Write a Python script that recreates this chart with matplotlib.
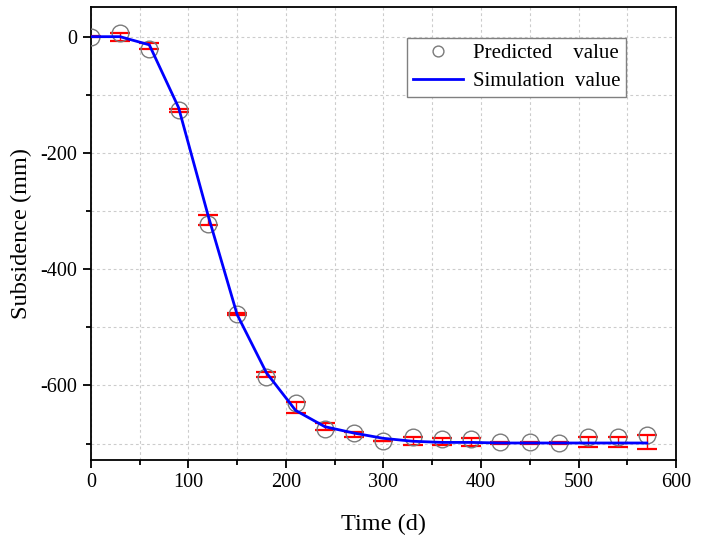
import matplotlib
matplotlib.use("Agg")
import matplotlib.pyplot as plt
from matplotlib.ticker import MultipleLocator

plt.rcParams['font.family'] = ['Liberation Serif', 'DejaVu Serif']
plt.rcParams['axes.unicode_minus'] = False

# time steps (days)
time_d = [0, 30, 60, 90, 120, 150, 180, 210, 240, 270,
          300, 330, 360, 390, 420, 450, 480, 510, 540, 570]

# predicted subsidence (mm)
predicted = [0, 6, -21, -126, -323, -477, -585, -630, -675, -681,
             -695, -689, -692, -692, -698, -698, -699, -689, -689, -686]

# error bar extents below / above the predicted value (mm)
err_low = [1, 14, 1, 4, 1, 2, 1, 17, 1, 7,
           0, 14, 10, 12, 2, 2, 2, 17, 17, 23]
err_high = [1, 1, 10, 1, 17, 2, 8, 1, 11, 1,
            0, 1, 1, 1, 1, 1, 1, 1, 1, 1]

# simulated subsidence (mm)
simulated = [0, 0, -14, -122, -306, -478, -578, -643, -671, -682,
             -691, -696, -698, -698, -699, -699, -699, -699, -699, -699]

fig = plt.figure(figsize=(7.06, 5.41), dpi=100)
ax = fig.add_axes([0.1286, 0.150, 0.829, 0.837])

ax.errorbar(time_d, predicted, yerr=[err_low, err_high], fmt='none',
            ecolor='red', elinewidth=1.0, capsize=7.5, capthick=1.6, zorder=3)
ax.plot(time_d, predicted, 'o', ms=12, mfc='none', mec='#7a7a7a', mew=1.0,
        label='Predicted    value', zorder=4)
ax.plot(time_d, simulated, '-', color='#0000ff', lw=2.0,
        label='Simulation  value', zorder=5)

ax.set_xlim(0, 600)
ax.set_ylim(-728, 51)
ax.xaxis.set_major_locator(MultipleLocator(100))
ax.xaxis.set_minor_locator(MultipleLocator(50))
ax.yaxis.set_major_locator(MultipleLocator(200))
ax.yaxis.set_minor_locator(MultipleLocator(100))

ax.grid(True, which='both', color='#cccccc', linestyle=(0, (2.5, 2.5)), lw=0.8)
ax.set_axisbelow(True)

ax.tick_params(which='both', direction='out', top=False, right=False,
               width=1.3, labelsize=14.5)
ax.tick_params(which='major', length=6)
ax.tick_params(which='minor', length=3.5)
for sp in ax.spines.values():
    sp.set_linewidth(1.3)

ax.set_xlabel('Time (d)', fontsize=17.5, labelpad=16)
ax.set_ylabel('Subsidence (mm)', fontsize=17.5, labelpad=6)

leg = ax.legend(loc='upper right', bbox_to_anchor=(0.915, 0.931), fontsize=15,
                markerscale=0.65, handlelength=2.4, handletextpad=0.5,
                borderpad=0.27, labelspacing=0.4, borderaxespad=0,
                fancybox=False, edgecolor='#808080', framealpha=1)
leg.get_frame().set_linewidth(1.0)

fig.savefig('out.png', dpi=100)
